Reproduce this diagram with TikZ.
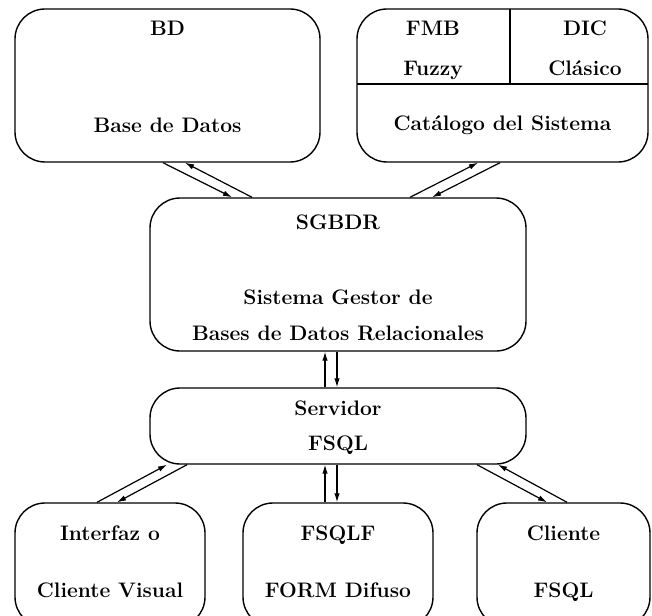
\documentclass[tikz,border=0pt]{standalone}
\usetikzlibrary{arrows.meta}
\tikzset{
  box/.style={draw, line width=1.4pt, rounded corners=30pt, inner sep=0pt},
  txt/.style={font=\fontsize{21}{24}\selectfont\bfseries, anchor=base, inner sep=0pt},
  darr/.style={-{Latex[length=9pt,width=5.5pt]}, line width=1.2pt},
}
\begin{document}
\begin{tikzpicture}[x=1pt,y=-1pt]
\clip (0,0) rectangle (652,615);
% top row
\node[box, minimum width=305pt, minimum height=153pt] (bd) at (167.5,85.5) {};
\node[box, minimum width=291pt, minimum height=153pt] (cat) at (502.5,85.5) {};
\draw[line width=1.4pt] (357,84) -- (648,84);
\draw[line width=1.4pt] (510,9) -- (510,84);
\node[txt] (bdA) at (167.5,36) {BD};
\node[txt] (bdB) at (167.5,132) {Base de Datos};
\node[txt] (fmb) at (433,36) {FMB};
\node[txt] (fuz) at (433,76) {Fuzzy};
\node[txt] (dic) at (585,36) {DIC};
\node[txt] (cla) at (585,76) {Clásico};
\node[txt] (catB) at (502.5,130) {Catálogo del Sistema};
% middle
\node[box, minimum width=376pt, minimum height=153pt] (sg) at (338,274.5) {};
\node[txt] (sgA) at (338,229) {SGBDR};
\node[txt] (sgB) at (338,304) {Sistema Gestor de};
\node[txt] (sgC) at (338,340) {Bases de Datos Relacionales};
\node[box, minimum width=376pt, minimum height=76pt] (sv) at (338,426) {};
\node[txt] (svA) at (338,415) {Servidor};
\node[txt] (svB) at (338,450) {FSQL};
% bottom row
\node[box, minimum width=190pt, minimum height=124pt] (iv) at (110,565) {};
\node[box, minimum width=190pt, minimum height=124pt] (fl) at (338,565) {};
\node[box, minimum width=173pt, minimum height=124pt] (cl) at (563.5,565) {};
\node[txt] (ivA) at (110,540) {Interfaz o};
\node[txt] (ivB) at (110,597) {Cliente Visual};
\node[txt] (flA) at (338,540) {FSQLF};
\node[txt] (flB) at (338,597) {FORM Difuso};
\node[txt] (clA) at (563.5,540) {Cliente};
\node[txt] (clB) at (563.5,597) {FSQL};
% arrows
\draw[darr] ([xshift=-4.5pt]bd.south) -- ([xshift=-106pt]sg.north);
\draw[darr] ([xshift=-86pt]sg.north) -- ([xshift=17.5pt]bd.south);
\draw[darr] ([xshift=72pt]sg.north) -- ([xshift=-24.5pt]cat.south);
\draw[darr] ([xshift=-2.5pt]cat.south) -- ([xshift=94pt]sg.north);
\draw[darr] ([xshift=-13pt]sv.north) -- ([xshift=-13pt]sg.south);
\draw[darr] ([xshift=-1pt]sg.south) -- ([xshift=-1pt]sv.north);
\draw[darr] ([xshift=-13pt]iv.north) -- ([xshift=-171pt]sv.south);
\draw[darr] ([xshift=-151pt]sv.south) -- ([xshift=7pt]iv.north);
\draw[darr] ([xshift=-13pt]fl.north) -- ([xshift=-13pt]sv.south);
\draw[darr] ([xshift=-1pt]sv.south) -- ([xshift=-1pt]fl.north);
\draw[darr] ([xshift=139pt]sv.south) -- ([xshift=-16.5pt]cl.north);
\draw[darr] ([xshift=3.5pt]cl.north) -- ([xshift=160pt]sv.south);
\end{tikzpicture}
\end{document}
